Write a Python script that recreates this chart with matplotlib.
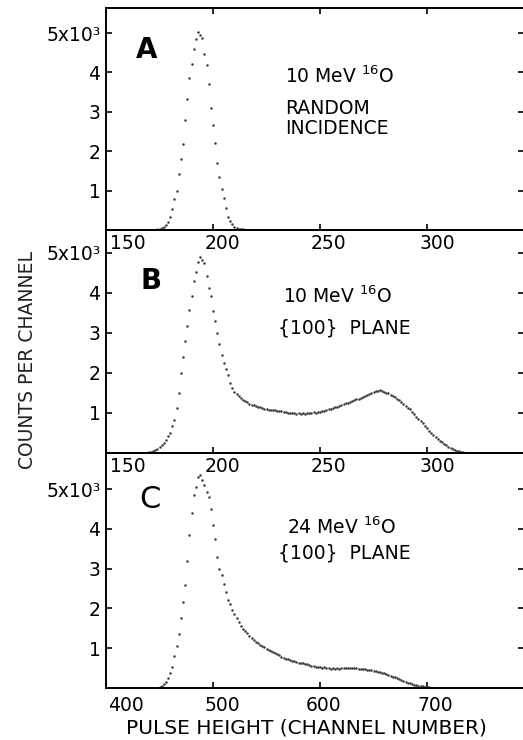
import numpy as np
import matplotlib
matplotlib.use('Agg')
import matplotlib.pyplot as plt
from matplotlib.transforms import ScaledTranslation

plt.rcParams['font.family'] = ['DejaVu Sans']

# counts per channel
a_start = 168          # panel A, one value per channel
a_counts = [0, 2, 4, 6, 9, 12, 18, 26, 40, 70,
            120, 200, 340, 530, 780, 1000, 1410, 1790, 2180, 2790,
            3320, 3850, 4210, 4590, 4840, 5030, 4950, 4870, 4460, 4190,
            3700, 3100, 2660, 2200, 1710, 1350, 1050, 800, 550, 340,
            220, 140, 85, 55, 35, 24, 17, 12, 9, 7,
            5, 4, 3, 2, 2, 1, 0]

b_start = 166          # panel B, one value per channel
b_counts = [0, 2, 5, 10, 18, 30, 50, 75, 105, 145,
            190, 250, 330, 420, 510, 680, 830, 1120, 1500, 1990,
            2400, 2800, 3180, 3580, 3930, 4310, 4530, 4780, 4890, 4820,
            4760, 4430, 4130, 3930, 3560, 3300, 2990, 2720, 2450, 2240,
            2100, 1950, 1760, 1620, 1530, 1480, 1420, 1380, 1330, 1300,
            1270, 1230, 1210, 1190, 1170, 1160, 1140, 1120, 1110, 1100,
            1070, 1080, 1080, 1070, 1060, 1060, 1040, 1030, 1020, 1010,
            1000, 990, 990, 980, 990, 980, 990, 970, 1000, 1010,
            1010, 1020, 1000, 1030, 1030, 1050, 1060, 1070, 1090, 1110,
            1120, 1140, 1160, 1180, 1200, 1220, 1240, 1260, 1280, 1300,
            1320, 1340, 1360, 1380, 1410, 1430, 1450, 1470, 1500, 1520,
            1540, 1560, 1570, 1550, 1530, 1510, 1490, 1460, 1430, 1400,
            1360, 1330, 1280, 1230, 1180, 1130, 1090, 1030, 970, 910,
            860, 800, 740, 680, 620, 560, 500, 450, 400, 350,
            310, 270, 230, 200, 160, 130, 110, 80, 60, 40,
            30, 20, 12, 8, 5, 3, 2, 1, 0]

c_start, c_step = 440, 2   # panel C, every second channel
c_counts = [0, 2, 4, 7, 12, 22, 45, 90, 150, 240,
            380, 530, 800, 1050, 1350, 1750, 2150, 2600, 3200, 3850,
            4400, 4850, 5050, 5300, 5350, 5220, 5100, 4920, 4800, 4500,
            4100, 3750, 3300, 3000, 2840, 2620, 2420, 2220, 2100, 1970,
            1860, 1750, 1650, 1560, 1490, 1430, 1370, 1310, 1250, 1200,
            1160, 1120, 1090, 1050, 1020, 990, 960, 930, 910, 880,
            850, 820, 790, 760, 740, 720, 700, 680, 670, 660,
            640, 630, 620, 610, 600, 580, 560, 550, 530, 530,
            520, 510, 520, 500, 490, 480, 490, 480, 490, 470,
            490, 500, 510, 500, 490, 500, 490, 490, 480, 480,
            470, 470, 460, 450, 440, 430, 420, 410, 400, 380,
            370, 350, 320, 300, 280, 270, 250, 220, 190, 170,
            150, 130, 120, 100, 80, 70, 60, 50, 40, 30,
            20, 15, 10, 8, 5, 3, 0]

letters = ['A', 'B', 'C']
notes = [['10 MeV $^{16}$O', 'RANDOM', 'INCIDENCE'],
         ['10 MeV $^{16}$O', '{100}  PLANE'],
         ['24 MeV $^{16}$O', '{100}  PLANE']]
ab_ticks = [150, 200, 250, 300]
c_ticks = [400, 500, 600, 700]
y_ticks = [1000, 2000, 3000, 4000, 5000]
y_labels = ['1', '2', '3', '4', '5x10³']

W, H = 523, 740
fig = plt.figure(figsize=(W / 100, H / 100), dpi=100)

def px_axes(top, bottom):
    return fig.add_axes([106 / W, 1 - bottom / H, 418 / W, (bottom - top) / H])

axA = px_axes(8, 230)
axB = px_axes(230, 453)
axC = px_axes(453, 688)

dot = dict(linestyle='none', marker='o', markersize=1.8, color='#3c3c3c',
           markeredgewidth=0)
axA.plot(a_start + np.arange(len(a_counts)), a_counts, **dot)
axB.plot(b_start + np.arange(len(b_counts)), b_counts, **dot)
axC.plot(c_start + c_step * np.arange(len(c_counts)), c_counts, **dot)

axA.set_ylim(0, 5635)
axB.set_ylim(0, 5575)
axC.set_ylim(0, 5905)
axA.set_xlim(150, 150 + 418 / 2.14)
axB.set_xlim(150, 150 + 418 / 2.14)
axC.set_xlim(400, 400 + 418 / 1.07)

for ax, xt, offs, pad in [(axA, ab_ticks, [22, 9, 8, 10], 3),
                          (axB, ab_ticks, [22, 9, 8, 10], 3),
                          (axC, c_ticks, [20, 9, 4, 8], 6)]:
    ax.set_facecolor('none')
    for s in ax.spines.values():
        s.set_linewidth(1.4)
    ax.set_yticks(y_ticks)
    ax.set_yticklabels(y_labels)
    ax.set_xticks(xt)
    ax.set_xticklabels([str(t) for t in xt])
    ax.yaxis.set_ticks_position('both')
    ax.tick_params(axis='y', direction='in', length=4.5, width=1.2,
                   labelsize=13.5, pad=4, labelright=False)
    ax.tick_params(axis='x', direction='in', length=4.5, width=1.2,
                   labelsize=13.5, pad=pad)
    for lbl, dx in zip(ax.get_xticklabels(), offs):
        lbl.set_transform(lbl.get_transform() +
                          ScaledTranslation(dx / 100, 0, fig.dpi_scale_trans))

axA.xaxis.set_ticks_position('both')
axA.tick_params(axis='x', labeltop=False)

def ftext(x, y, s, **kw):
    fig.text(x / W, 1 - y / H, s, **kw)

ftext(147, 50, letters[0], fontsize=20, fontweight='bold', ha='center', va='center')
ftext(151, 281, letters[1], fontsize=20, fontweight='bold', ha='center', va='center')
ftext(150, 499, letters[2], fontsize=22, ha='center', va='center')

ftext(285, 83, notes[0][0], fontsize=13.5, va='baseline')
ftext(285, 108, notes[0][1], fontsize=13.5, va='center')
ftext(285, 128, notes[0][2], fontsize=13.5, va='center')
ftext(283, 303, notes[1][0], fontsize=13.5, va='baseline')
ftext(278, 328, notes[1][1], fontsize=13.5, va='center')
ftext(287, 534, notes[2][0], fontsize=13.5, va='baseline')
ftext(278, 553, notes[2][1], fontsize=13.5, va='center')

ftext(306, 728, 'PULSE HEIGHT (CHANNEL NUMBER)', fontsize=14.5,
      ha='center', va='center')
ftext(28, 360, 'COUNTS PER CHANNEL', fontsize=13.5, rotation=90,
      ha='center', va='center', color='#222222')

fig.savefig('out.png', dpi=100)
